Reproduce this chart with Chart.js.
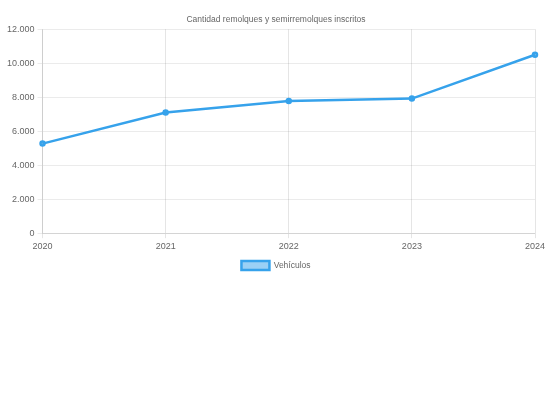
<!DOCTYPE html>
<html>
<head>
<meta charset="utf-8">
<script src="https://cdn.jsdelivr.net/npm/chart.js@4"></script>
<style>
html,body{margin:0;padding:0;background:#fff;}
#wrap{width:552px;height:280px;position:relative;}
</style>
</head>
<body>
<div id="wrap"><canvas id="c"></canvas></div>
<script>
const categories = ['2020','2021','2022','2023','2024'];
const seriesName = 'Vehículos';
const values = [5270, 7100, 7780, 7920, 10500];
const titleText = 'Cantidad remolques y semirremolques inscritos';

function fmt(v){ return String(v).replace(/\B(?=(\d{3})+(?!\d))/g, '.'); }

Chart.defaults.font.family = '"Liberation Sans", Arial, sans-serif';
Chart.defaults.font.size = 9;
Chart.defaults.color = '#666';

new Chart(document.getElementById('c'), {
  type: 'line',
  data: {
    labels: categories,
    datasets: [{
      label: seriesName,
      data: values,
      borderColor: 'rgb(54,162,235)',
      backgroundColor: 'rgba(54,162,235,0.5)',
      borderWidth: 2.5,
      pointRadius: 2,
      pointBackgroundColor: 'rgba(54,162,235,0.5)',
      tension: 0,
      fill: false
    }]
  },
  options: {
    responsive: true,
    maintainAspectRatio: false,
    animation: false,
    plugins: {
      title: { display: true, text: titleText, font: { size: 8.5, weight: 'normal' }, padding: { top: 14.5, bottom: 4.5 } },
      legend: { position: 'bottom', labels: { boxWidth: 28, boxHeight: 9, padding: 6, font: { size: 8.5 } } },
      tooltip: { enabled: false }
    },
    scales: {
      x: {
        grid: { color: 'rgba(0,0,0,0.1)', tickLength: 5 },
        afterFit: s => { s.paddingRight = 17; }
      },
      y: {
        min: 0, max: 12000,
        ticks: { stepSize: 2000, callback: v => fmt(v) },
        grid: { color: 'rgba(0,0,0,0.08)', tickLength: 5 },
        afterFit: s => { s.width += 4; }
      }
    }
  }
});
</script>
</body>
</html>
